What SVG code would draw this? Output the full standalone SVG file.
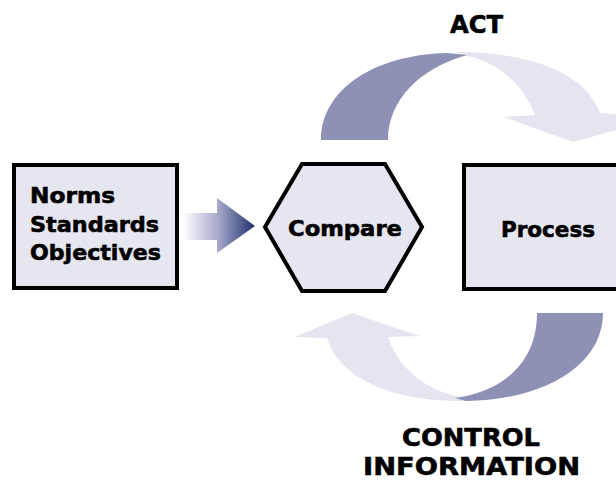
<svg xmlns="http://www.w3.org/2000/svg" width="616" height="481" viewBox="0 0 616 481">
  <defs>
    <linearGradient id="feedGrad" gradientUnits="userSpaceOnUse" x1="183" y1="0" x2="255" y2="0">
      <stop offset="0" stop-color="#ffffff"/>
      <stop offset="0.5" stop-color="#a4a6c8"/>
      <stop offset="1" stop-color="#1f2f6c"/>
    </linearGradient>
    <style>
      .box { fill: #e6e6f0; stroke: #000; stroke-width: 4; stroke-linejoin: miter; }
      .lbl { font-family: "DejaVu Sans", Verdana, sans-serif; font-weight: bold; font-size: 22px; fill: #000; stroke: #000; stroke-width: 0.6; }
      .cap { font-family: "DejaVu Sans", Verdana, sans-serif; font-weight: bold; font-size: 25px; fill: #000; stroke: #000; stroke-width: 0.6; }
      .dark { fill: #8e90b6; }
      .light { fill: #e5e5f0; }
    </style>
  </defs>

  <rect width="616" height="481" fill="#ffffff"/>

  <!-- connectors -->
  <g id="connectors">
    <!-- input arrow into Compare -->
    <path d="M183,213 L217,213 L217,198 L255,226 L217,253 L217,240 L183,240 Z" fill="url(#feedGrad)"/>
    <!-- ACT loop: light front part with arrowhead -->
    <path class="light" d="M455,52 C530,52 585,72 600,113 L660,118 L573,142 L504,117 L535,115 C522,82 495,60 462,55 Z"/>
    <!-- ACT loop: dark rear part -->
    <path class="dark" d="M321,140 C321,92 370,55 447,53 L467,55 C420,68 388,100 388,140 Z"/>
    <!-- control information loop: light part with arrowhead -->
    <path class="light" d="M466,401 C395,402 340,380 327,338 L295,337 L352,313 L420,336 L388,337 C400,372 430,392 462,397 Z"/>
    <!-- control information loop: dark part -->
    <path class="dark" d="M603,313 C603,365 545,400 466,401 L455,398 C500,392 537,365 537,313 Z"/>
  </g>

  <!-- norms / standards / objectives -->
  <g id="norms">
    <rect class="box" x="14" y="165" width="163" height="123"/>
    <text class="lbl" x="30" y="203" textLength="85" lengthAdjust="spacingAndGlyphs">Norms</text>
    <text class="lbl" x="30" y="232" textLength="129" lengthAdjust="spacingAndGlyphs">Standards</text>
    <text class="lbl" x="30" y="260" textLength="131" lengthAdjust="spacingAndGlyphs">Objectives</text>
  </g>

  <!-- compare hexagon -->
  <g id="compare">
    <polygon class="box" points="265,227 302,164 385,164 422,227 385,291 302,291"/>
    <text class="lbl" x="288" y="236" textLength="114" lengthAdjust="spacingAndGlyphs">Compare</text>
  </g>

  <!-- process box -->
  <g id="process">
    <rect class="box" x="464" y="165" width="170" height="124"/>
    <text class="lbl" x="501" y="237" textLength="94" lengthAdjust="spacingAndGlyphs">Process</text>
  </g>

  <!-- loop captions -->
  <g id="act">
    <text class="cap" x="450" y="33" font-size="24" textLength="53" lengthAdjust="spacingAndGlyphs">ACT</text>
  </g>
  <g id="control-information">
    <text class="cap" x="402" y="446" textLength="138" lengthAdjust="spacingAndGlyphs">CONTROL</text>
    <text class="cap" x="363" y="475" textLength="217" lengthAdjust="spacingAndGlyphs">INFORMATION</text>
  </g>
</svg>
